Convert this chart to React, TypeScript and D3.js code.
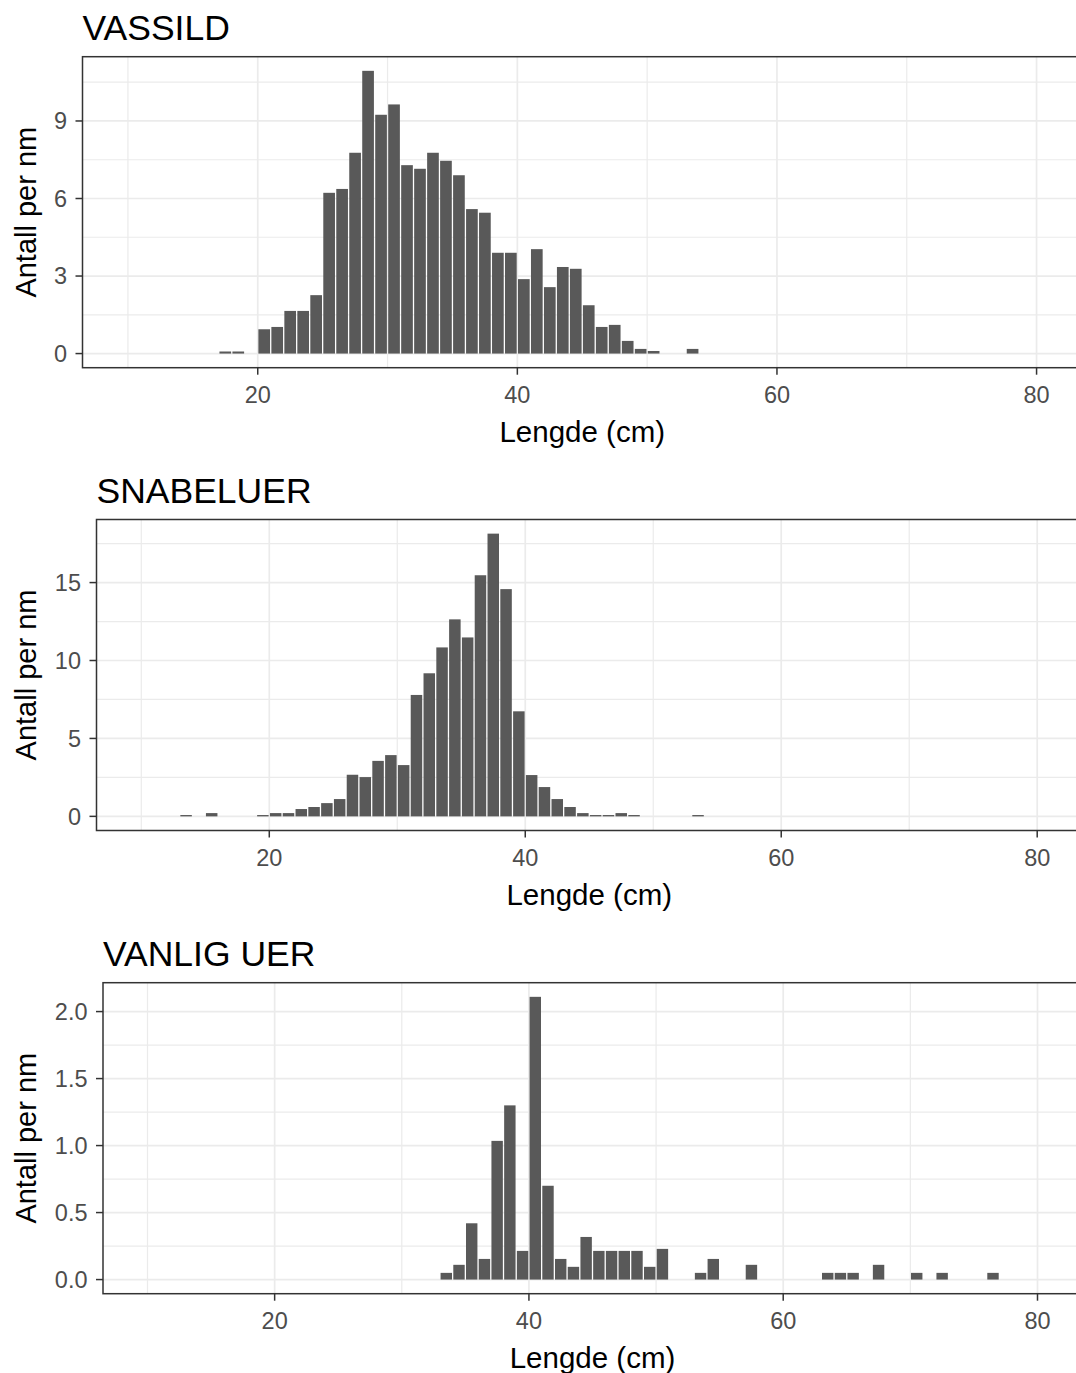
import * as d3 from 'd3';

// Length bins (cm, left edge of a 1 cm bin) and counts per nautical mile
const vassildLengths = [17, 18, 20, 21, 22, 23, 24, 25, 26, 27, 28, 29, 30, 31, 32, 33, 34, 35, 36, 37, 38, 39, 40, 41, 42, 43, 44, 45, 46, 47, 48, 49, 50, 53];
const vassildValues = [0.08, 0.08, 0.94, 1.03, 1.65, 1.65, 2.26, 6.22, 6.37, 7.77, 10.94, 9.24, 9.64, 7.29, 7.15, 7.77, 7.46, 6.9, 5.59, 5.45, 3.9, 3.9, 2.88, 4.04, 2.57, 3.35, 3.28, 1.87, 1.03, 1.11, 0.49, 0.18, 0.1, 0.18];

const snabeluerLengths = [13, 15, 19, 20, 21, 22, 23, 24, 25, 26, 27, 28, 29, 30, 31, 32, 33, 34, 35, 36, 37, 38, 39, 40, 41, 42, 43, 44, 45, 46, 47, 48, 53];
const snabeluerValues = [0.085, 0.21, 0.085, 0.21, 0.21, 0.47, 0.6, 0.85, 1.11, 2.67, 2.52, 3.56, 3.93, 3.29, 7.79, 9.18, 10.84, 12.64, 11.48, 15.47, 18.14, 14.58, 6.74, 2.65, 1.88, 1.11, 0.6, 0.21, 0.085, 0.085, 0.21, 0.085, 0.085];

const vanligUerLengths = [33, 34, 35, 36, 37, 38, 39, 40, 41, 42, 43, 44, 45, 46, 47, 48, 49, 50, 53, 54, 57, 63, 64, 65, 67, 70, 72, 76];
const vanligUerValues = [0.05, 0.11, 0.42, 0.154, 1.035, 1.3, 0.214, 2.11, 0.7, 0.154, 0.095, 0.318, 0.214, 0.214, 0.214, 0.214, 0.095, 0.229, 0.05, 0.154, 0.11, 0.05, 0.05, 0.05, 0.11, 0.05, 0.05, 0.05];

const xTicks = [20, 40, 60, 80];
const xMinor = [10, 30, 50, 70];

const vassildTicks = [0, 3, 6, 9];
const vassildMinor = [1.5, 4.5, 7.5, 10.5];
const snabeluerTicks = [0, 5, 10, 15];
const snabeluerMinor = [2.5, 7.5, 12.5, 17.5];
const vanligUerTicks = [0, 0.5, 1, 1.5, 2];
const vanligUerMinor = [0.25, 0.75, 1.25, 1.75];

const FONT = '"Liberation Sans", Arial, sans-serif';
const GRID = '#EBEBEB';
const INK = '#333333';

interface PanelProps {
  title: string;
  lengths: number[];
  values: number[];
  yTicks: number[];
  yMinor: number[];
  fmt: (v: number) => string;
  left: number;
  top: number;
}

function Panel({ title, lengths, values, yTicks, yMinor, fmt, left, top }: PanelProps) {
  const right = 1082;
  const bottom = top + 311;
  const x = d3.scaleLinear().domain([6.5, 83.5]).range([left, right]);
  const maxV = d3.max(values) ?? 1;
  const y = d3.scaleLinear().domain([-0.05 * maxV, 1.05 * maxV]).range([bottom, top]);
  const step = x(1) - x(0);

  return (
    <g>
      <text x={left} y={top - 17} fontSize={35.5} fill="#000" fontFamily={FONT}>{title}</text>

      {/* grid */}
      {yMinor.map(v => (
        <line key={'ym' + v} x1={left} x2={right} y1={y(v)} y2={y(v)} stroke={GRID} strokeWidth={1.2} />
      ))}
      {xMinor.map(v => (
        <line key={'xm' + v} x1={x(v)} x2={x(v)} y1={top} y2={bottom} stroke={GRID} strokeWidth={1.2} />
      ))}
      {yTicks.map(v => (
        <line key={'yg' + v} x1={left} x2={right} y1={y(v)} y2={y(v)} stroke={GRID} strokeWidth={1.7} />
      ))}
      {xTicks.map(v => (
        <line key={'xg' + v} x1={x(v)} x2={x(v)} y1={top} y2={bottom} stroke={GRID} strokeWidth={1.7} />
      ))}

      {/* bars */}
      {lengths.map((l, i) => (
        <rect
          key={l}
          x={x(l) + 0.65}
          width={step - 1.3}
          y={y(values[i])}
          height={y(0) - y(values[i])}
          fill="#595959"
        />
      ))}

      <rect x={left} y={top} width={right - left} height={bottom - top} fill="none" stroke={INK} strokeWidth={1.5} />

      {/* y axis */}
      {yTicks.map(v => (
        <g key={'yt' + v}>
          <line x1={left - 7} x2={left} y1={y(v)} y2={y(v)} stroke={INK} strokeWidth={1.5} />
          <text x={left - 15.5} y={y(v)} dy="0.36em" textAnchor="end" fontSize={23.5} fill="#4D4D4D" fontFamily={FONT}>{fmt(v)}</text>
        </g>
      ))}
      <text
        transform={`translate(36,${(top + bottom) / 2}) rotate(-90)`}
        textAnchor="middle"
        fontSize={29}
        fill="#000"
        fontFamily={FONT}
      >Antall per nm</text>

      {/* x axis */}
      {xTicks.map(v => (
        <g key={'xt' + v}>
          <line x1={x(v)} x2={x(v)} y1={bottom} y2={bottom + 7} stroke={INK} strokeWidth={1.5} />
          <text x={x(v)} y={bottom + 35} textAnchor="middle" fontSize={23.5} fill="#4D4D4D" fontFamily={FONT}>{v}</text>
        </g>
      ))}
      <text x={(left + right) / 2} y={bottom + 74} textAnchor="middle" fontSize={29.5} fill="#000" fontFamily={FONT}>Lengde (cm)</text>
    </g>
  );
}

export default function App() {
  const plain = d3.format('d');
  const oneDec = d3.format('.1f');
  return (
    <div style={{ position: 'absolute', left: 0, top: 0 }}>
      <svg width={1076} height={1373} style={{ display: 'block', background: '#fff' }}>
        <Panel title="VASSILD" lengths={vassildLengths} values={vassildValues} yTicks={vassildTicks} yMinor={vassildMinor} fmt={plain} left={82.5} top={56.7} />
        <Panel title="SNABELUER" lengths={snabeluerLengths} values={snabeluerValues} yTicks={snabeluerTicks} yMinor={snabeluerMinor} fmt={plain} left={96.5} top={519.5} />
        <Panel title="VANLIG UER" lengths={vanligUerLengths} values={vanligUerValues} yTicks={vanligUerTicks} yMinor={vanligUerMinor} fmt={oneDec} left={103} top={982.7} />
      </svg>
    </div>
  );
}
